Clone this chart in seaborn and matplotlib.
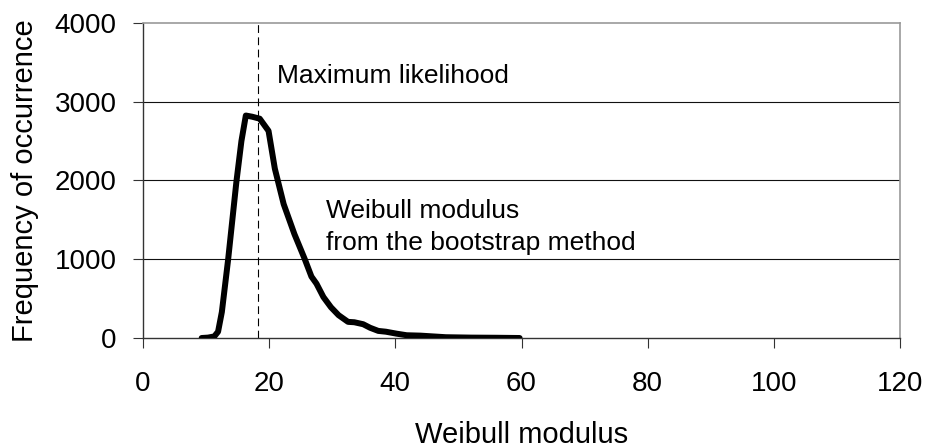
import matplotlib
matplotlib.use("Agg")
import matplotlib.pyplot as plt
import seaborn as sns
import pandas as pd

# Data
weibull_modulus = [9.3, 10.3, 11.3, 11.9, 12.5, 13.5, 14.8, 15.6, 16.3, 17.3, 18.5, 19.9,
                   20.9, 22.3, 24.0, 25.6, 26.7, 27.5, 28.6, 29.8, 31.0, 32.5, 33.5, 34.9,
                   36.0, 37.3, 38.5, 40.2, 41.8, 44.0, 46.0, 48.0, 52.0, 56.0, 59.7]
frequency = [0, 5, 20, 80, 330, 1000, 1980, 2500, 2825, 2810, 2785, 2630,
             2150, 1700, 1320, 1010, 780, 690, 520, 390, 290, 205, 200, 175,
             130, 90, 80, 55, 35, 30, 20, 10, 5, 3, 0]
max_likelihood = 18.3
x_ticks = [0, 20, 40, 60, 80, 100, 120]
y_ticks = [0, 1000, 2000, 3000, 4000]

sns.set_style("white")
plt.rcParams['font.family'] = ['Liberation Sans', 'DejaVu Sans']
plt.rcParams['text.color'] = 'black'
plt.rcParams['axes.labelcolor'] = 'black'
plt.rcParams['xtick.color'] = 'black'
plt.rcParams['ytick.color'] = 'black'

df = pd.DataFrame({"Weibull modulus": weibull_modulus, "Frequency": frequency})

fig = plt.figure(figsize=(9.27, 4.48), dpi=100)
ax = fig.add_axes([143/927, 1 - 338/448, (900 - 143)/927, (338 - 23)/448])

sns.lineplot(data=df, x="Weibull modulus", y="Frequency", ax=ax,
             color="black", linewidth=4.3, zorder=3)

ax.axvline(max_likelihood, color="black", linewidth=0.8, linestyle=(0, (7, 4)), zorder=2)

ax.set_xlim(0, 120)
ax.set_ylim(0, 4000)
ax.set_xticks(x_ticks)
ax.set_yticks(y_ticks)
ax.set_xticklabels([str(t) for t in x_ticks])
ax.set_yticklabels([str(t) for t in y_ticks])

for yv in y_ticks[1:-1]:
    ax.axhline(yv, color="#111111", linewidth=0.8, zorder=1)

ax.tick_params(axis='both', which='both', direction='out', length=7, width=0.8,
               color='#333333', labelcolor='black', labelsize=20, bottom=True, left=True)
ax.tick_params(axis='x', pad=17)
ax.tick_params(axis='y', pad=12)

for s in ['top', 'right']:
    ax.spines[s].set_color('#999999')
    ax.spines[s].set_linewidth(1.2)
for s in ['left', 'bottom']:
    ax.spines[s].set_color('#333333')
    ax.spines[s].set_linewidth(1.0)

ax.set_xlabel("Weibull modulus", fontsize=21, color='black')
ax.set_ylabel("Frequency of occurrence", fontsize=21, color='black')
ax.xaxis.set_label_coords(0.5, -0.262)
ax.yaxis.set_label_coords(-0.137, 0.5)

ax.text(21.2, 3238, "Maximum likelihood", fontsize=19, va='baseline', ha='left', color='black')
ax.text(29.0, 1520, "Weibull modulus", fontsize=19, va='baseline', ha='left', color='black')
ax.text(29.0, 1117, "from the bootstrap method", fontsize=19, va='baseline', ha='left', color='black')

fig.savefig("out.png", dpi=100)
